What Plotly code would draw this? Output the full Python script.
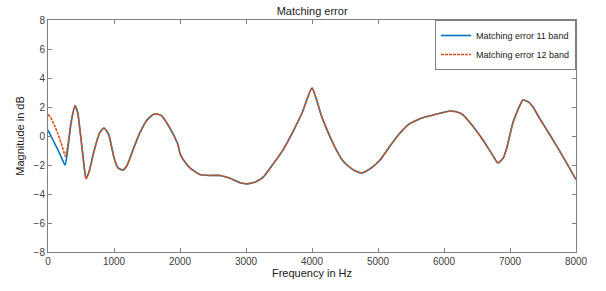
import plotly.graph_objects as go

# Low-frequency part differs between the two series
freq_low_11 = [0, 50, 100, 150, 200, 260, 300, 350]
err_low_11 = [0.4, -0.05, -0.5, -0.95, -1.45, -2.0, -0.9, 0.9]
freq_low_12 = [0, 50, 100, 150, 200, 265, 300, 350]
err_low_12 = [1.5, 1.2, 0.7, 0.15, -0.5, -1.4, -0.6, 1.0]

# Shared part (both curves coincide)
freq_shared = [409, 450, 500, 550, 576, 620, 700, 780, 848, 920, 1000, 1060, 1136,
               1200, 1300, 1400, 1500, 1600, 1650, 1720, 1800, 1900, 1970, 2000,
               2045, 2150, 2300, 2450, 2606, 2750, 2900, 3015, 3150, 3257, 3400,
               3560, 3700, 3850, 4000, 4150, 4318, 4450, 4530, 4650, 4757, 4900,
               5030, 5180, 5333, 5450, 5590, 5700, 5833, 5950, 6090, 6200, 6288,
               6450, 6590, 6720, 6818, 6900, 6955, 7050, 7197, 7280, 7348, 7450,
               7606, 7800, 8000]
err_shared = [2.1, 1.6, -0.2, -2.2, -2.95, -2.5, -1.0, 0.2, 0.55, 0.1, -1.5, -2.2, -2.35,
              -2.0, -0.8, 0.3, 1.1, 1.5, 1.52, 1.4, 0.9, 0.1, -0.6, -1.2,
              -1.6, -2.2, -2.65, -2.72, -2.72, -2.9, -3.2, -3.3, -3.15, -2.85, -2.0,
              -0.97, 0.2, 1.6, 3.3, 1.3, -0.5, -1.6, -2.0, -2.4, -2.55, -2.2,
              -1.66, -0.7, 0.2, 0.75, 1.1, 1.3, 1.45, 1.58, 1.72, 1.65, 1.45,
              0.6, -0.28, -1.2, -1.86, -1.5, -0.76, 1.0, 2.48, 2.35, 2.0, 1.2,
              0.07, -1.4, -3.0]

x_ticks = [0, 1000, 2000, 3000, 4000, 5000, 6000, 7000, 8000]
y_ticks = [-8, -6, -4, -2, 0, 2, 4, 6, 8]

FONT = "Liberation Sans, Arial"

fig = go.Figure()
fig.add_trace(go.Scatter(
    x=freq_low_11 + freq_shared, y=err_low_11 + err_shared,
    mode="lines", name="Matching error 11 band",
    line=dict(color="#0072BD", width=1.6, shape="spline", smoothing=0.5)))
fig.add_trace(go.Scatter(
    x=freq_low_12 + freq_shared, y=err_low_12 + err_shared,
    mode="lines", name="Matching error 12 band",
    line=dict(color="#D95319", width=1.6, dash="3px,1px",
              shape="spline", smoothing=0.5)))

axis_common = dict(showline=True, linecolor="#808080", linewidth=1, mirror="ticks",
                   ticks="inside", ticklen=4, tickcolor="#808080", showgrid=False,
                   zeroline=False, automargin=False,
                   tickfont=dict(family=FONT, size=10, color="#404040"))

fig.update_layout(
    width=606, height=291,
    margin=dict(l=48, r=30, t=20, b=39),
    paper_bgcolor="white", plot_bgcolor="white",
    title=dict(text="Matching error", x=0.515, xanchor="center",
               yref="container", y=0.963, yanchor="middle",
               font=dict(family=FONT, size=11, color="#202020")),
    xaxis=dict(range=[0, 8000], tickvals=x_ticks,
               title=dict(text="Frequency in Hz", standoff=2,
                          font=dict(family=FONT, size=11, color="#202020")),
               **axis_common),
    yaxis=dict(range=[-8, 8], tickvals=y_ticks,
               title=dict(text="Magnitude in dB", standoff=6,
                          font=dict(family=FONT, size=11, color="#202020")),
               **axis_common),
    legend=dict(x=1, y=1, xanchor="right", yanchor="top",
                bgcolor="white", bordercolor="#808080", borderwidth=1,
                font=dict(family=FONT, size=9, color="#202020"),
                tracegroupgap=0, itemwidth=30),
    showlegend=True,
)

fig.write_html("out.html", config={"displayModeBar": False},
               post_script="document.body.style.margin='0';")
